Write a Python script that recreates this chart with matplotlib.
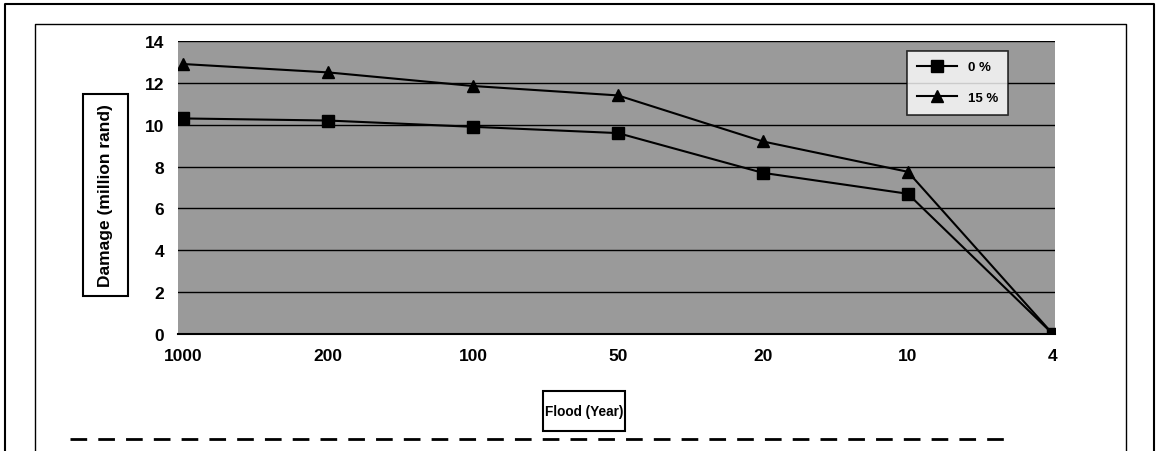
import matplotlib.pyplot as plt
import numpy as np
from matplotlib.lines import Line2D
from matplotlib.patches import Rectangle

# Flood return periods (years) and damage values (million rand)
flood_years = ['1000', '200', '100', '50', '20', '10', '4']
damage_0 = [10.3, 10.2, 9.9, 9.6, 7.7, 6.7, 0.0]
damage_15 = [12.9, 12.5, 11.85, 11.4, 9.2, 7.75, 0.0]
series_labels = ['0 %', '15 %']
y_ticks = [0, 2, 4, 6, 8, 10, 12, 14]

plt.rcParams['font.family'] = ['Liberation Sans', 'DejaVu Sans']
plt.rcParams['font.weight'] = 'bold'

W, H = 1158, 452
fig = plt.figure(figsize=(W / 100, H / 100), dpi=100)
fig.patch.set_facecolor('white')

# plot area
ax = fig.add_axes([178 / W, 1 - 335 / H, (1055 - 178) / W, (335 - 42) / H])
ax.set_facecolor('#9a9a9a')

x = np.arange(len(flood_years))
ax.plot(x, damage_0, color='black', lw=1.5, marker='s', ms=8, label=series_labels[0])
ax.plot(x, damage_15, color='black', lw=1.5, marker='^', ms=8, label=series_labels[1])

ax.set_xlim(-0.035, 6.015)
ax.set_ylim(0, 14)
ax.set_yticks(y_ticks)
ax.set_xticks(x)
ax.set_xticklabels(flood_years)
ax.yaxis.grid(True, color='black', lw=1.0)
ax.set_axisbelow(True)
ax.tick_params(axis='both', length=0, labelsize=12.5, pad=10)
for s in ax.spines.values():
    s.set_visible(False)
ax.spines['bottom'].set_visible(True)
ax.spines['bottom'].set_linewidth(1.5)


def fbox(x0, y0, x1, y1):
    # box in pixel coords from the top-left corner
    fig.add_artist(Rectangle((x0 / W, 1 - y1 / H), (x1 - x0) / W, (y1 - y0) / H,
                             transform=fig.transFigure, fc='white', ec='black', lw=1.5))


# axis titles in boxes
fbox(83, 95, 128, 297)
fig.text(105.5 / W, 1 - 196 / H, 'Damage (million rand)', rotation=90, ha='center',
         va='center', fontsize=12.5, fontweight='bold')
fbox(543, 392, 625, 432)
fig.text(584 / W, 1 - 412 / H, 'Flood (Year)', ha='center', va='center',
         fontsize=9.8, fontweight='bold')

leg = ax.legend(loc='upper right', bbox_to_anchor=(1015 / W, 1 - 45 / H),
                bbox_transform=fig.transFigure, frameon=True, fancybox=False,
                fontsize=9.5, handlelength=3, borderpad=0.8, labelspacing=1.4)
leg.get_frame().set_edgecolor('black')
leg.get_frame().set_linewidth(1.2)

# scanned page frames
def fline(xs, ys, **kw):
    fig.add_artist(Line2D([v / W for v in xs], [1 - v / H for v in ys], color='black', **kw))

fline([5, 5, 1154, 1154], [452, 5, 5, 452], lw=1.5)
fline([35, 35, 1126, 1126], [452, 25, 25, 452], lw=1.0)
fline([70, 1010], [440, 440], lw=2, ls=(0, (6, 4)))

fig.savefig('out.png', dpi=100)
